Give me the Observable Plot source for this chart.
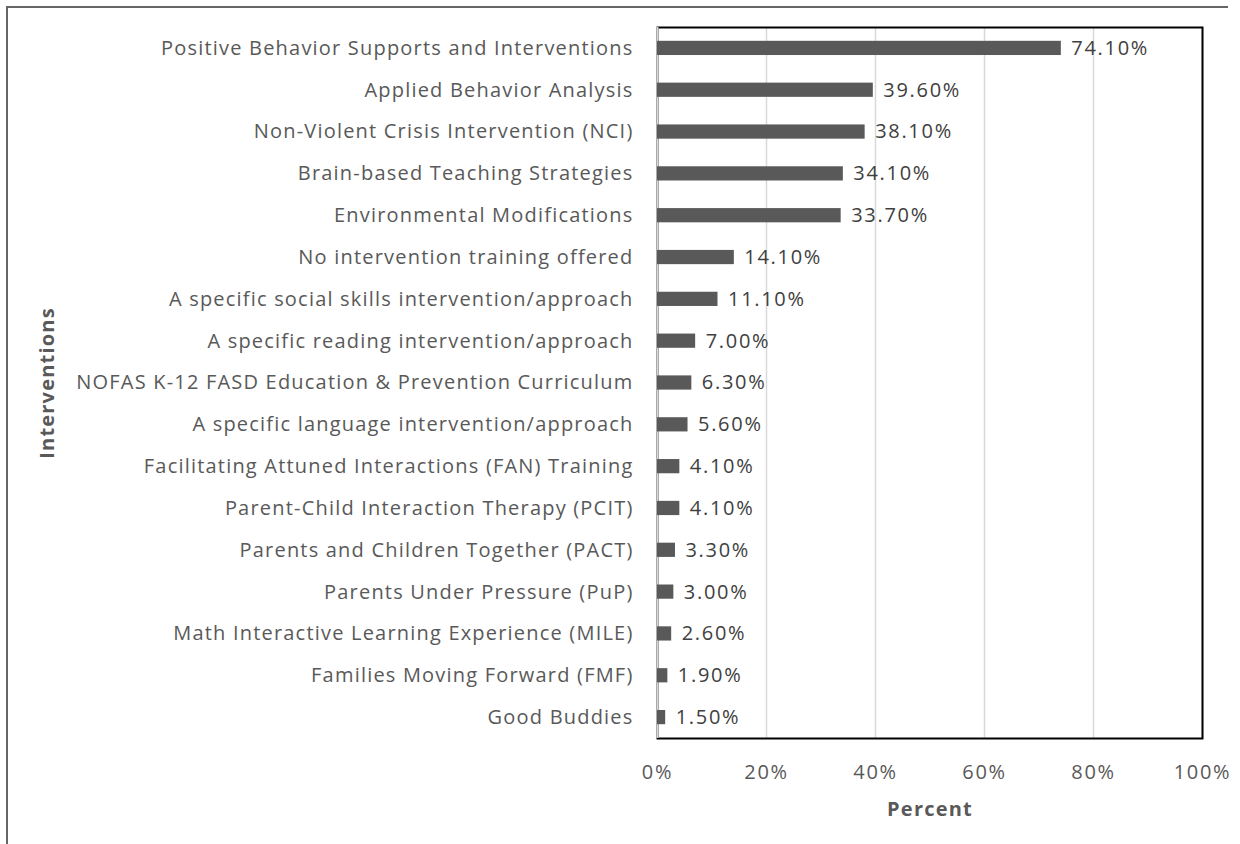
<!DOCTYPE html>
<html>
<head>
<meta charset="utf-8">
<script src="https://cdn.jsdelivr.net/npm/d3@7"></script>
<script src="https://cdn.jsdelivr.net/npm/@observablehq/plot@0.6"></script>
<style>
  html, body { margin: 0; padding: 0; background: #fff; }
  #wrap { position: relative; width: 1240px; height: 844px; overflow: hidden; }
  #border { position: absolute; left: 6px; top: 6px; width: 1220px; height: 850px;
            border-top: 2px solid #666; border-left: 2px solid #666; pointer-events: none; }
  #chart { position: absolute; left: 0; top: 0; }
  #chart svg text { letter-spacing: 1.2px; }
  #chart svg g.values text, #chart svg g.xticks text { letter-spacing: 1.7px; }
</style>
</head>
<body>
<div id="wrap"><div id="chart"></div><div id="border"></div></div>
<script>
const categories = [
  "Positive Behavior Supports and Interventions",
  "Applied Behavior Analysis",
  "Non-Violent Crisis Intervention (NCI)",
  "Brain-based Teaching Strategies",
  "Environmental Modifications",
  "No intervention training offered",
  "A specific social skills intervention/approach",
  "A specific reading intervention/approach",
  "NOFAS K-12 FASD Education & Prevention Curriculum",
  "A specific language intervention/approach",
  "Facilitating Attuned Interactions (FAN) Training",
  "Parent-Child Interaction Therapy (PCIT)",
  "Parents and Children Together (PACT)",
  "Parents Under Pressure (PuP)",
  "Math Interactive Learning Experience (MILE)",
  "Families Moving Forward (FMF)",
  "Good Buddies"
];
const percents = [74.1, 39.6, 38.1, 34.1, 33.7, 14.1, 11.1, 7.0, 6.3, 5.6, 4.1, 4.1, 3.3, 3.0, 2.6, 1.9, 1.5];
const xTicks = [0, 20, 40, 60, 80, 100];

const data = categories.map((c, i) => ({category: c, value: percents[i]}));
const font = "'Open Sans', sans-serif";

const chart = Plot.plot({
  width: 1240,
  height: 844,
  marginLeft: 657,
  marginRight: 38,
  marginTop: 27,
  marginBottom: 106,
  style: {fontFamily: font, fontSize: "20px", color: "#595959", background: "transparent"},
  x: {domain: [0, 100], ticks: xTicks, tickFormat: d => d + "%", label: null},
  y: {domain: categories, paddingInner: 0.66, paddingOuter: 0.33, round: false, label: null},
  marks: [
    Plot.gridX(xTicks, {stroke: "#d9d9d9", strokeOpacity: 1, strokeWidth: 1.5}),
    Plot.frame({stroke: "#000", strokeWidth: 2}),
    Plot.ruleX([0], {stroke: "#d9d9d9", strokeWidth: 2}),
    Plot.barX(data, {x: "value", y: "category", fill: "#595959"}),
    Plot.text(data, {x: "value", y: "category", text: d => d.value.toFixed(2) + "%",
      textAnchor: "start", dx: 10, fill: "#404040", fontSize: 20, className: "values"}),
    Plot.axisX(xTicks, {tickSize: 0, tickPadding: 26, tickFormat: d => d + "%", fill: "#595959", fontSize: 20, label: null, className: "xticks"}),
    Plot.axisY({tickSize: 0, tickPadding: 24, fill: "#595959", fontSize: 20, label: null}),
    Plot.text(["Percent"], {frameAnchor: "bottom", dy: 77, fontWeight: "bold", fill: "#595959", fontSize: 20}),
    Plot.text(["Interventions"], {frameAnchor: "left", textAnchor: "middle", dx: -610, rotate: -90, fontWeight: "bold", fill: "#595959", fontSize: 20})
  ]
});
document.getElementById("chart").appendChild(chart);
</script>
</body>
</html>
